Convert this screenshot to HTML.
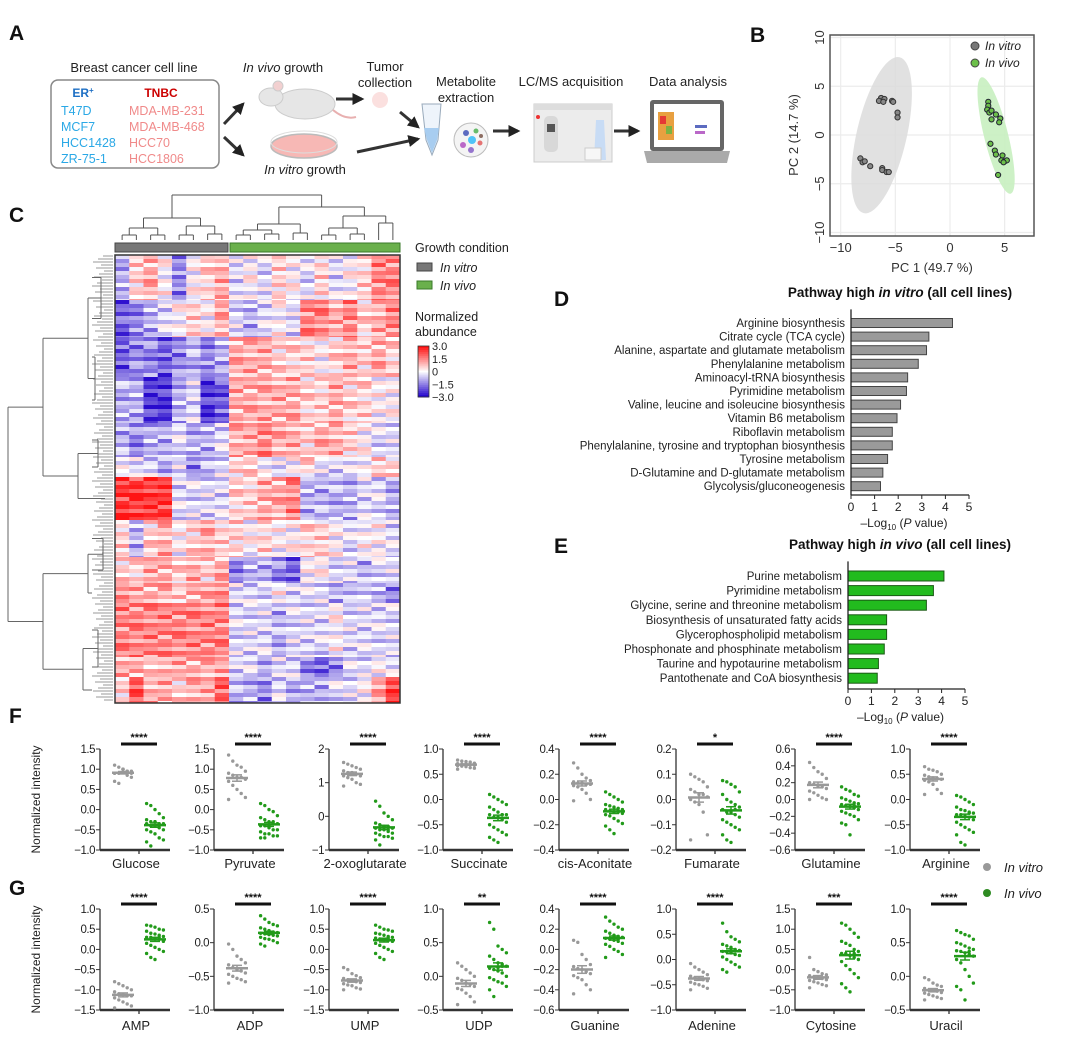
<!DOCTYPE html>
<html><head><meta charset="utf-8">
<style>
body{margin:0;background:#fff;}
svg{display:block;font-family:"Liberation Sans",sans-serif;}
</style></head>
<body>
<svg id="fig" width="1080" height="1044" viewBox="0 0 1080 1044" xmlns="http://www.w3.org/2000/svg">
<rect width="1080" height="1044" fill="#fff"/>
<g font-weight="bold" font-size="21" fill="#111">
<text x="9" y="40">A</text>
<text x="750" y="42">B</text>
<text x="9" y="222">C</text>
<text x="554" y="306">D</text>
<text x="554" y="553">E</text>
<text x="9" y="723">F</text>
<text x="9" y="895">G</text>
</g>

<g id="panelA" font-size="13" fill="#222">
<text x="134" y="72" text-anchor="middle">Breast cancer cell line</text>
<rect x="51" y="80" width="168" height="88" rx="7" fill="none" stroke="#888" stroke-width="1.5"/>
<text x="83" y="97" text-anchor="middle" font-weight="bold" fill="#1e6fc4" font-size="12">ER<tspan font-size="8" dy="-4">+</tspan></text>
<text x="161" y="97" text-anchor="middle" font-weight="bold" fill="#c00" font-size="12">TNBC</text>
<g fill="#2aa8e6" font-size="12.5">
<text x="61" y="115">T47D</text>
<text x="61" y="131">MCF7</text>
<text x="61" y="147">HCC1428</text>
<text x="61" y="163">ZR-75-1</text>
</g>
<g fill="#f08a8a" font-size="12.5">
<text x="129" y="115">MDA-MB-231</text>
<text x="129" y="131">MDA-MB-468</text>
<text x="129" y="147">HCC70</text>
<text x="129" y="163">HCC1806</text>
</g>
<defs><marker id="ah" viewBox="0 0 10 10" refX="8" refY="5" markerWidth="4" markerHeight="4" orient="auto"><path d="M0,0L10,5L0,10z" fill="#222"/></marker></defs>
<g stroke="#333" stroke-width="3" marker-end="url(#ah)">
<line x1="224" y1="124" x2="243" y2="104"/>
<line x1="224" y1="137" x2="243" y2="155"/>
<line x1="336" y1="99" x2="362" y2="99"/>
<line x1="400" y1="112" x2="418" y2="127"/>
<line x1="357" y1="152" x2="418" y2="139"/>
<line x1="493" y1="131" x2="518" y2="131"/>
<line x1="614" y1="131" x2="638" y2="131"/>
</g>
<text x="283" y="72" text-anchor="middle"><tspan font-style="italic">In vivo</tspan> growth</text>
<g>
<ellipse cx="305" cy="104" rx="30" ry="15" fill="#e6e6e6" stroke="#ccc"/>
<ellipse cx="271" cy="97" rx="12" ry="9" fill="#e6e6e6" stroke="#ccc"/>
<circle cx="278" cy="86" r="5" fill="#f2d0d0" stroke="#ccc"/>
<path d="M333,110 Q345,120 356,117" stroke="#e8b0b0" stroke-width="2" fill="none"/>
</g>
<g>
<ellipse cx="304" cy="146" rx="33" ry="12" fill="#f7b8b5" stroke="#bbb" stroke-width="1.5"/>
<ellipse cx="304" cy="142" rx="33" ry="11" fill="none" stroke="#ddd" stroke-width="1"/>
</g>
<text x="305" y="174" text-anchor="middle"><tspan font-style="italic">In vitro</tspan> growth</text>
<text x="385" y="71" text-anchor="middle">Tumor</text>
<text x="385" y="87" text-anchor="middle">collection</text>
<circle cx="380" cy="100" r="8" fill="#fbe0df"/>
<text x="466" y="86" text-anchor="middle">Metabolite</text>
<text x="466" y="102" text-anchor="middle">extraction</text>
<path d="M422,104 L441,104 L438,140 L432,155 L426,140 Z" fill="#eef4fb" stroke="#9ab" stroke-width="1"/>
<path d="M424,128 L439,128 L437,140 L432,153 L427,140 Z" fill="#a8cdf0"/>
<g>
<circle cx="471" cy="140" r="17" fill="#f4f4f4" stroke="#bbb"/>
<circle cx="466" cy="133" r="3" fill="#5c6bc0"/><circle cx="476" cy="131" r="2.5" fill="#66bb6a"/>
<circle cx="472" cy="140" r="4" fill="#4fc3f7"/><circle cx="463" cy="145" r="3" fill="#ba68c8"/>
<circle cx="480" cy="143" r="2.5" fill="#e57373"/><circle cx="471" cy="150" r="3" fill="#9575cd"/>
<circle cx="481" cy="136" r="2" fill="#8d6e63"/>
</g>
<text x="571" y="86" text-anchor="middle">LC/MS acquisition</text>
<g>
<rect x="534" y="104" width="78" height="58" fill="#ececec" stroke="#ccc"/>
<rect x="534" y="104" width="78" height="6" fill="#ddd"/>
<rect x="544" y="116" width="14" height="36" rx="5" fill="#d8d8d8"/>
<rect x="547" y="124" width="8" height="8" fill="#555"/>
<circle cx="538" cy="117" r="2" fill="#e33"/>
<path d="M596,120 L604,120 L606,160 L594,160 Z" fill="#c8dcf5"/>
<rect x="585" y="148" width="16" height="12" fill="#f7f7f7" stroke="#ccc"/>
</g>
<text x="688" y="86" text-anchor="middle">Data analysis</text>
<g>
<rect x="650" y="100" width="74" height="51" rx="3" fill="#666"/>
<rect x="654" y="104" width="66" height="43" fill="#fff"/>
<rect x="658" y="112" width="16" height="28" fill="#e8a040"/>
<rect x="660" y="116" width="6" height="8" fill="#e53935"/><rect x="666" y="126" width="6" height="8" fill="#7cb342"/>
<rect x="695" y="125" width="12" height="3" fill="#5c6bc0"/><rect x="695" y="131" width="10" height="3" fill="#ba68c8"/>
<path d="M644,151 L730,151 L727,163 L647,163 Z" fill="#aaa"/>
</g>
</g>

<g id="panelB"></g>
<g id="panelC"></g>
<g id="panelD"></g>
<g id="panelE"></g>
<g id="panelF"></g>
<g id="panelG"></g>
<g font-size="13" font-style="italic" fill="#222">
<circle cx="987" cy="867" r="4" fill="#999"/>
<text x="1004" y="872">In vitro</text>
<circle cx="987" cy="893" r="4" fill="#2e8b22"/>
<text x="1004" y="898">In vivo</text>
</g>
</svg>
<script>
const pcaVitroX=[-6.3,-6.0,-6.5,-6.1,-5.3,-5.2,-4.8,-4.8,-8.2,-8.0,-7.8,-7.3,-6.2,-6.2,-5.8,-5.6];
const pcaVitroY=[3.8,3.7,3.5,3.4,3.5,3.4,2.3,1.8,-2.4,-2.8,-2.7,-3.2,-3.4,-3.6,-3.8,-3.8];
const pcaVivoX=[3.5,3.5,3.4,3.6,3.8,4.2,3.8,4.6,4.5,3.7,4.1,4.2,4.8,4.7,5.0,5.2,4.9,4.4];
const pcaVivoY=[3.4,3.0,2.6,2.3,2.5,2.1,1.6,1.7,1.3,-0.9,-1.6,-2.0,-2.1,-2.6,-2.7,-2.6,-2.8,-4.1];
const pcaXTicks=[-10,-5,0,5];
const pcaYTicks=[-10,-5,0,5,10];

const dNames=["Arginine biosynthesis","Citrate cycle (TCA cycle)","Alanine, aspartate and glutamate metabolism","Phenylalanine metabolism","Aminoacyl-tRNA biosynthesis","Pyrimidine metabolism","Valine, leucine and isoleucine biosynthesis","Vitamin B6 metabolism","Riboflavin metabolism","Phenylalanine, tyrosine and tryptophan biosynthesis","Tyrosine metabolism","D-Glutamine and D-glutamate metabolism","Glycolysis/gluconeogenesis"];
const dValues=[4.3,3.3,3.2,2.85,2.4,2.35,2.1,1.95,1.75,1.75,1.55,1.35,1.25];
const eNames=["Purine metabolism","Pyrimidine metabolism","Glycine, serine and threonine metabolism","Biosynthesis of unsaturated fatty acids","Glycerophospholipid metabolism","Phosphonate and phosphinate metabolism","Taurine and hypotaurine metabolism","Pantothenate and CoA biosynthesis"];
const eValues=[4.1,3.65,3.35,1.65,1.65,1.55,1.3,1.25];
const barTicks=[0,1,2,3,4,5];

const bandRows=[45,37,40,46,34,20,43,37,26,20,54,20,26];
const bandValues=[
[-1,0.5,1,0,-1.5,0,0.5,1,-0.5,0,-0.5,0.5,0,-0.5,0.5,-0.5,0,0.5,1.5,1.5],
[-2,-1.5,-1,-0.5,0,0.5,0,1,-0.5,-1,-0.5,0,-0.5,1.5,1.5,1,1.5,0.5,1,1.5],
[-2,-1.5,-1.5,-2,-1.5,-1,-1.5,-1,1,1,1,0.5,0.5,0.5,0,0.5,1,0.5,1,0.5],
[-1,-1,-2.5,-2.5,-1,-0.5,-2.5,-2,1,1,1,1,1,0.5,0.5,1,0.5,0.5,0,0],
[-1,-1.5,-1,-1,-0.5,-1,-1,-0.5,1,1,1.5,1,1,0.5,1,1,0.5,0,-0.5,-0.5],
[0,-0.5,-0.5,-1,-0.5,-1.5,-1,-0.5,0.5,0.5,0,-0.5,0,0.5,-0.5,-0.5,-0.5,0,0.5,0.5],
[2.5,2.5,2.5,2.5,-0.5,-0.5,-0.5,-0.5,0.5,0.5,1,1,1.5,-1,-1,-1,-1,-0.5,-0.5,-1],
[0.5,-1,0.5,1,0,0.5,1,0.5,0.5,0,0.5,0,0,0.5,0.5,0,-0.5,0,0,-0.5],
[0.5,0.5,1,1,0.5,1,0.5,1,-1.5,-1,-1,-1.5,-2,0,0,-0.5,-0.5,-1,-0.5,-0.5],
[1.5,1,1,1,0.5,1,1,1.5,-0.5,-0.5,-0.5,0,-0.5,-0.5,-0.5,-1,-1,-0.5,-1,-1.5],
[1.5,1.5,1.5,1.5,1.5,1.5,1.5,1.5,-0.5,-0.5,-0.5,-1,-0.5,-0.5,-0.5,0,-0.5,-0.5,-0.5,-0.5],
[1,1,0.5,1,1,1,1,1,-0.5,-0.5,-1,-0.5,-0.5,-1.5,-2,-1.5,-0.5,-0.5,0,-0.5],
[0.5,2,1,1,0.5,1,1,2,-1,-1,-1.5,-0.5,-1,-1,-1,-0.5,-0.5,0,1,2.5]];
const rowShift=[0.6,-0.4,0.1,-0.8,0.5,0,-0.3,0.9,-0.6,0.3,-0.1,0.7,-0.9,0.2,0.4,-0.5,0.8];
const heatLegendTicks=[3.0,1.5,0,-1.5,-3.0];

const fNames=["Glucose","Pyruvate","2-oxoglutarate","Succinate","cis-Aconitate","Fumarate","Glutamine","Arginine"];
const fStars=["****","****","****","****","****","*","****","****"];
const fMin=[-1,-1,-1,-1,-0.4,-0.2,-0.6,-1];
const fMax=[1.5,1.5,2,1,0.4,0.2,0.6,1];
const fStep=[0.5,0.5,1,0.5,0.2,0.1,0.2,0.5];
const fVitro=[
[1.1,1.05,1.0,0.95,0.95,0.9,0.9,1.0,0.85,0.8,0.7,0.65,1.0,0.95,0.9,0.9],
[1.35,1.2,1.1,1.05,0.95,0.9,0.85,0.8,0.8,0.75,0.7,0.6,0.5,0.4,0.3,0.25],
[1.6,1.55,1.5,1.45,1.4,1.35,1.3,1.3,1.25,1.2,1.2,1.15,1.1,1.0,0.95,0.9],
[0.78,0.76,0.75,0.74,0.72,0.71,0.7,0.7,0.69,0.68,0.67,0.66,0.65,0.63,0.62,0.6],
[0.29,0.25,0.2,0.17,0.15,0.14,0.13,0.13,0.12,0.12,0.11,0.1,0.08,0.05,0.0,-0.01],
[0.1,0.09,0.08,0.07,0.05,0.04,0.03,0.02,0.02,0.01,0.0,-0.01,-0.02,-0.05,-0.14,-0.16],
[0.44,0.38,0.33,0.3,0.25,0.2,0.18,0.16,0.15,0.13,0.1,0.08,0.05,0.02,0.0,0.0],
[0.65,0.6,0.58,0.55,0.5,0.48,0.45,0.43,0.42,0.4,0.38,0.35,0.3,0.2,0.12,0.1]];
const fVivo=[
[0.15,0.1,0.0,-0.1,-0.2,-0.25,-0.3,-0.3,-0.35,-0.35,-0.35,-0.4,-0.4,-0.45,-0.5,-0.5,-0.55,-0.6,-0.7,-0.75,-0.8,-0.9,-0.3,-0.4],
[0.15,0.1,0.0,-0.05,-0.15,-0.2,-0.25,-0.3,-0.35,-0.35,-0.4,-0.4,-0.45,-0.5,-0.5,-0.55,-0.6,-0.6,-0.65,-0.65,-0.7,-0.7,-0.4,-0.3],
[0.45,0.3,0.1,0.0,-0.1,-0.2,-0.25,-0.3,-0.3,-0.35,-0.35,-0.4,-0.4,-0.45,-0.5,-0.5,-0.55,-0.6,-0.6,-0.65,-0.7,-0.85,-0.3,-0.4],
[0.1,0.05,0.0,-0.05,-0.1,-0.15,-0.2,-0.25,-0.3,-0.3,-0.3,-0.35,-0.35,-0.4,-0.45,-0.5,-0.55,-0.6,-0.65,-0.7,-0.75,-0.8,-0.85,-0.3],
[0.06,0.04,0.02,0.0,-0.02,-0.04,-0.05,-0.06,-0.07,-0.08,-0.08,-0.09,-0.1,-0.1,-0.11,-0.12,-0.13,-0.15,-0.17,-0.19,-0.21,-0.24,-0.27,-0.09],
[0.075,0.07,0.06,0.05,0.03,0.02,0.0,-0.01,-0.02,-0.03,-0.04,-0.05,-0.05,-0.06,-0.07,-0.08,-0.09,-0.1,-0.11,-0.12,-0.14,-0.16,-0.17,-0.04],
[0.15,0.12,0.1,0.06,0.04,0.02,0.0,-0.02,-0.04,-0.05,-0.06,-0.07,-0.08,-0.1,-0.12,-0.14,-0.16,-0.18,-0.2,-0.24,-0.28,-0.3,-0.42,-0.07],
[0.08,0.05,0.0,-0.05,-0.1,-0.15,-0.2,-0.22,-0.25,-0.27,-0.3,-0.3,-0.33,-0.35,-0.4,-0.45,-0.5,-0.55,-0.6,-0.65,-0.7,-0.85,-0.9,-0.27]];
const gNames=["AMP","ADP","UMP","UDP","Guanine","Adenine","Cytosine","Uracil"];
const gStars=["****","****","****","**","****","****","***","****"];
const gMin=[-1.5,-1,-1.5,-0.5,-0.6,-1,-1,-0.5];
const gMax=[1,0.5,1,1,0.4,1,1.5,1];
const gStep=[0.5,0.5,0.5,0.5,0.2,0.5,0.5,0.5];
const gVitro=[
[-0.8,-0.85,-0.9,-0.95,-1.0,-1.05,-1.1,-1.12,-1.15,-1.15,-1.2,-1.25,-1.3,-1.35,-1.4,-1.45],
[-0.02,-0.1,-0.2,-0.25,-0.3,-0.33,-0.37,-0.4,-0.42,-0.45,-0.47,-0.5,-0.53,-0.55,-0.58,-0.6],
[-0.45,-0.5,-0.6,-0.65,-0.7,-0.72,-0.75,-0.78,-0.8,-0.82,-0.85,-0.88,-0.9,-0.95,-0.98,-1.0],
[0.2,0.15,0.1,0.05,0.0,-0.03,-0.06,-0.1,-0.12,-0.15,-0.18,-0.2,-0.25,-0.3,-0.38,-0.42],
[0.09,0.07,-0.05,-0.1,-0.15,-0.17,-0.19,-0.2,-0.22,-0.24,-0.26,-0.28,-0.3,-0.35,-0.4,-0.44],
[-0.08,-0.15,-0.2,-0.25,-0.3,-0.33,-0.36,-0.38,-0.4,-0.42,-0.45,-0.48,-0.5,-0.53,-0.57,-0.6],
[0.3,0.0,-0.05,-0.1,-0.13,-0.15,-0.18,-0.2,-0.22,-0.25,-0.27,-0.3,-0.33,-0.37,-0.4,-0.45],
[-0.02,-0.05,-0.1,-0.13,-0.15,-0.18,-0.2,-0.21,-0.22,-0.24,-0.25,-0.27,-0.29,-0.31,-0.33,-0.35]];
const gVivo=[
[0.6,0.58,0.55,0.5,0.48,0.45,0.4,0.38,0.35,0.32,0.3,0.3,0.28,0.25,0.2,0.15,0.1,0.05,0.0,-0.05,-0.1,-0.2,-0.25,0.3],
[0.4,0.35,0.3,0.27,0.25,0.22,0.2,0.18,0.16,0.15,0.14,0.13,0.12,0.11,0.1,0.08,0.06,0.05,0.03,0.0,-0.02,-0.05,0.13,0.15],
[0.6,0.55,0.5,0.48,0.45,0.4,0.38,0.35,0.32,0.3,0.28,0.26,0.25,0.22,0.2,0.15,0.1,0.05,0.0,-0.05,-0.1,-0.2,-0.25,0.28],
[0.8,0.7,0.45,0.4,0.35,0.3,0.25,0.2,0.18,0.15,0.12,0.1,0.08,0.05,0.0,-0.02,-0.05,-0.08,-0.1,-0.15,-0.2,-0.3,0.13,0.15],
[0.32,0.28,0.25,0.22,0.2,0.18,0.16,0.14,0.13,0.12,0.11,0.1,0.09,0.08,0.06,0.05,0.03,0.0,-0.02,-0.05,-0.08,0.11,0.12,0.1],
[0.72,0.55,0.45,0.4,0.35,0.3,0.27,0.24,0.2,0.18,0.16,0.15,0.13,0.1,0.08,0.05,0.0,-0.05,-0.1,-0.15,-0.2,-0.25,0.17,0.17],
[1.15,1.1,1.0,0.9,0.8,0.7,0.65,0.6,0.5,0.45,0.4,0.4,0.35,0.3,0.25,0.2,0.1,0.0,-0.1,-0.2,-0.35,-0.45,-0.55,0.4],
[0.68,0.65,0.62,0.6,0.55,0.5,0.48,0.45,0.42,0.4,0.38,0.37,0.35,0.33,0.3,0.25,0.2,0.1,0.0,-0.1,-0.15,-0.2,-0.35,0.37]];

const NS="http://www.w3.org/2000/svg";
function mk(parent,tag,attrs,text){const e=document.createElementNS(NS,tag);for(const k in attrs)e.setAttribute(k,attrs[k]);if(text!==undefined)e.textContent=text;parent.appendChild(e);return e;}
function fmt(v,d){const s=Math.abs(v).toFixed(d);return (v<-1e-9?"\u2212":"")+s;}

(function(){
const g=document.getElementById('panelB');
const X0=830,X1=1034,Y0=35,Y1=236;
const xs=v=>950+v*10.93, ys=v=>135-v*9.75;
mk(g,'rect',{x:X0,y:Y0,width:X1-X0,height:Y1-Y0,fill:'#fff'});
pcaXTicks.forEach(t=>{const l=mk(g,'line',{x1:xs(t),x2:xs(t),y1:Y0,y2:Y1,stroke:'#ececec','stroke-width':1.2});

const tx=mk(g,'text',{x:xs(t),y:Y1+16,'text-anchor':'middle','font-size':13,fill:'#333'},fmt(t,0));
});
pcaYTicks.forEach(t=>{const l=mk(g,'line',{x1:X0,x2:X1,y1:ys(t),y2:ys(t),stroke:'#ececec','stroke-width':1.2});

const tx=mk(g,'text',{x:0,y:0,'text-anchor':'middle','font-size':13,fill:'#333',transform:`translate(${X0-6},${ys(t)}) rotate(-90)`},fmt(t,0));
});
function mean(a){return a.reduce((s,v)=>s+v,0)/a.length;}
const e1=mk(g,'ellipse',{cx:xs(mean(pcaVitroX)),cy:ys(mean(pcaVitroY)),rx:25,ry:80,fill:'#dcdcdc','fill-opacity':0.85,transform:`rotate(13 ${xs(mean(pcaVitroX))} ${ys(mean(pcaVitroY))})`});

const e2=mk(g,'ellipse',{cx:xs(mean(pcaVivoX)),cy:ys(mean(pcaVivoY)),rx:12,ry:60,fill:'#c8f0c0','fill-opacity':0.9,transform:`rotate(-14 ${xs(mean(pcaVivoX))} ${ys(mean(pcaVivoY))})`});

pcaVitroX.forEach((v,i)=>{const c=mk(g,'circle',{cx:xs(v),cy:ys(pcaVitroY[i]),r:2.6,fill:'#888',stroke:'#333','stroke-width':1});
});
pcaVivoX.forEach((v,i)=>{const c=mk(g,'circle',{cx:xs(v),cy:ys(pcaVivoY[i]),r:2.6,fill:'#6cc04a',stroke:'#223','stroke-width':1});
});
const fr=mk(g,'rect',{x:X0,y:Y0,width:X1-X0,height:Y1-Y0,fill:'none',stroke:'#555','stroke-width':1.5});

const xt=mk(g,'text',{x:932,y:272,'text-anchor':'middle','font-size':13,fill:'#333'},'PC 1 (49.7 %)');

const yt=mk(g,'text',{x:0,y:0,'text-anchor':'middle','font-size':13,fill:'#333',transform:'translate(798,135) rotate(-90)'},'PC 2 (14.7 %)');

const l1=mk(g,'circle',{cx:975,cy:46,r:4,fill:'#777',stroke:'#444'});
const l2=mk(g,'circle',{cx:975,cy:63,r:4,fill:'#6cc04a',stroke:'#444'});
const t1=mk(g,'text',{x:985,y:50,'font-size':12,'font-style':'italic',fill:'#222'},'In vitro');
const t2=mk(g,'text',{x:985,y:67,'font-size':12,'font-style':'italic',fill:'#222'},'In vivo');
})();

(function(){
const g=document.getElementById('panelC');
const HX0=115,HX1=400,HY0=255,HY1=703,NC=20;
const cw=(HX1-HX0)/NC;
const total=bandRows.reduce((s,v)=>s+v,0);
const rh=(HY1-HY0)/total;
function col(v){let t=Math.max(-1,Math.min(1,v/3));
 if(t>=0){return `rgb(255,${Math.round(255-235*t)},${Math.round(255-235*t)})`;}
 t=-t;return `rgb(${Math.round(255-215*t)},${Math.round(255-245*t)},${Math.round(255-50*t)})`;}
let y=HY0;let s=0;
const SUB=4;
bandValues.forEach((row,b)=>{const n=bandRows[b];
 for(let r0=0;r0<n;r0+=SUB){const nr=Math.min(SUB,n-r0);const h=nr*rh;
  row.forEach((v,c)=>{const vv=v+rowShift[(s+c*5)%rowShift.length];
   const r=mk(g,'rect',{x:HX0+c*cw,y:y,width:cw+0.3,height:h+0.3,fill:col(vv)});
   });
  y+=h;s++;}
});
const fr=mk(g,'rect',{x:HX0,y:HY0,width:HX1-HX0,height:HY1-HY0,fill:'none',stroke:'#333','stroke-width':1.5});

const a1=mk(g,'rect',{x:HX0,y:243,width:8*cw-1,height:9,fill:'#777',stroke:'#444'});
const a2=mk(g,'rect',{x:HX0+8*cw+1,y:243,width:12*cw-1,height:9,fill:'#6ab04c',stroke:'#3a7a2a'});
const dg=mk(g,'g',{stroke:'#555','stroke-width':1,fill:'none'});

const tree=[45,[22,[12,[5,0,1],[5,2,3]],[14,[5,4,5],[6,6,7]]],[33,[16,[10,[5,8,9],[6,10,11]],[7,12,13]],[24,[12,[5,14,15],[6,16,17]],[17,18,19]]]];
function draw(n){if(typeof n==='number')return {x:HX0+(n+0.5)*cw,y:240};
 const kids=n.slice(1).map(draw);const yy=240-n[0];
 kids.forEach(k=>mk(dg,'line',{x1:k.x,x2:k.x,y1:k.y,y2:yy}));
 mk(dg,'line',{x1:kids[0].x,x2:kids[kids.length-1].x,y1:yy,y2:yy});
 return {x:(kids[0].x+kids[kids.length-1].x)/2,y:yy};}
draw(tree);
const lg=mk(g,'g',{stroke:'#666','stroke-width':1,fill:'none'});

for(let yy=HY0+1;yy<HY1;yy+=3){mk(lg,'line',{x1:92+((yy*7)%13),x2:113,y1:yy,y2:yy,stroke:'#999'});}
let cy=HY0;const centers=bandRows.map(r=>{const c=cy+r*rh/2;cy+=r*rh;return {x:92,y:c};});
const ltree=[105,[70,[25,[12,0,1],[18,2,3]],[35,[15,4,5],[8,6]]],[70,[25,[10,7,8],9],[30,[15,10,11],12]]];
function drawL(n){if(typeof n==='number')return centers[n];
 const kids=n.slice(1).map(drawL);const xx=113-n[0];
 kids.forEach(k=>mk(lg,'line',{x1:k.x,x2:xx,y1:k.y,y2:k.y}));
 mk(lg,'line',{x1:xx,x2:xx,y1:kids[0].y,y2:kids[kids.length-1].y});
 return {x:xx,y:(kids[0].y+kids[kids.length-1].y)/2};}
drawL(ltree);
const lt=mk(g,'g',{'font-size':12.5,fill:'#222'});

mk(lt,'text',{x:415,y:252},'Growth condition');
mk(lt,'rect',{x:417,y:263,width:15,height:8,fill:'#777',stroke:'#444'});
mk(lt,'text',{x:440,y:272,'font-style':'italic'},'In vitro');
mk(lt,'rect',{x:417,y:281,width:15,height:8,fill:'#6ab04c',stroke:'#3a7a2a'});
mk(lt,'text',{x:440,y:290,'font-style':'italic'},'In vivo');
mk(lt,'text',{x:415,y:321},'Normalized');
mk(lt,'text',{x:415,y:336},'abundance');
const cb0=346,cb1=397;
for(let i=0;i<25;i++){const v=3-6*i/24;mk(lt,'rect',{x:418,y:cb0+i*(cb1-cb0)/25,width:11,height:(cb1-cb0)/25+0.5,fill:col(v)});}
mk(lt,'rect',{x:418,y:cb0,width:11,height:cb1-cb0,fill:'none',stroke:'#333','stroke-width':0.8});
heatLegendTicks.forEach(t=>{const yy=cb0+(3-t)/6*(cb1-cb0);mk(lt,'text',{x:432,y:yy+4,'font-size':11},t===0?'0':fmt(t,1));});
})();

function pathway(id,names,vals,axX,unit,barTop,barStep,barH,axisBottom,title,titleY,italicWord,color,stroke,pre){
 const g=document.getElementById(id);
 const xs=v=>axX+v*unit;
 const tt=mk(g,'text',{x:900,y:titleY,'text-anchor':'middle','font-size':13.5,'font-weight':'bold',fill:'#111'});
 
 mk(tt,'tspan',{},'Pathway high ');mk(tt,'tspan',{'font-style':'italic'},italicWord);mk(tt,'tspan',{},' (all cell lines)');
 names.forEach((n,i)=>{const yc=barTop+i*barStep;
  const r=mk(g,'rect',{x:axX,y:yc-barH/2,width:xs(vals[i])-axX,height:barH,fill:color,stroke:stroke,'stroke-width':1});
  
  const t=mk(g,'text',{x:axX-6,y:yc+4,'text-anchor':'end','font-size':11.5,fill:'#222'},n);
  });
 const ya=mk(g,'line',{x1:axX,x2:axX,y1:barTop-barStep,y2:axisBottom,stroke:'#222','stroke-width':1.3});
 
 const xa=mk(g,'line',{x1:axX,x2:xs(5),y1:axisBottom,y2:axisBottom,stroke:'#222','stroke-width':1.3});
 
 barTicks.forEach(t=>{mk(g,'line',{x1:xs(t),x2:xs(t),y1:axisBottom,y2:axisBottom+4,stroke:'#222'});
  const tl=mk(g,'text',{x:xs(t),y:axisBottom+16,'text-anchor':'middle','font-size':12,fill:'#222'},String(t));
  });
 const xt=mk(g,'text',{x:xs(2.5)-6,y:axisBottom+32,'text-anchor':'middle','font-size':12,fill:'#222'});
 
 mk(xt,'tspan',{},'\u2013Log');mk(xt,'tspan',{'font-size':8,dy:3},'10');mk(xt,'tspan',{dy:-3},' (');mk(xt,'tspan',{'font-style':'italic'},'P');mk(xt,'tspan',{},' value)');
}
pathway('panelD',dNames,dValues,851,23.6,323,13.6,9,495,'','297','in vitro','#9a9a9a','#444','pathway-invitro');
pathway('panelE',eNames,eValues,848,23.4,576,14.6,10,689,'',549,'in vivo','#22bb1e','#1a5a14','pathway-invivo');

const axisXs=[100,214,329,443,559,676,795,910];
function strips(id,names,stars,mins,maxs,steps,vitro,vivo,top,bottom,pre){
 const g=document.getElementById(id);
 const yt=mk(g,'text',{x:0,y:0,'text-anchor':'middle','font-size':12,fill:'#222',transform:`translate(40,${(top+bottom)/2}) rotate(-90)`},'Normalized intensity');
 
 names.forEach((nm,k)=>{
  const ax=axisXs[k];const mn=mins[k],mx=maxs[k],st=steps[k];
  const ys=v=>bottom-(v-mn)/(mx-mn)*(bottom-top);
  const sg=mk(g,'g',{});
  mk(sg,'line',{x1:ax,x2:ax,y1:top,y2:bottom,stroke:'#333','stroke-width':1.3});
  mk(sg,'line',{x1:ax,x2:ax+70,y1:bottom,y2:bottom,stroke:'#333','stroke-width':2.5});
  mk(sg,'line',{x1:ax+39,x2:ax+39,y1:bottom,y2:bottom+4,stroke:'#333','stroke-width':1.3});
  const dec=st>=1?0:1;
  const n=Math.round((mx-mn)/st);
  for(let i=0;i<=n;i++){const v=mn+i*st;mk(sg,'line',{x1:ax-4,x2:ax,y1:ys(v),y2:ys(v),stroke:'#333'});
   const tl=mk(sg,'text',{x:ax-5,y:ys(v)+4,'text-anchor':'end','font-size':11.5,fill:'#222','letter-spacing':'-0.5'},fmt(v,dec));
   }
  const cl=mk(sg,'text',{x:ax+36,y:bottom+(pre==='f'?18:20),'text-anchor':'middle','font-size':13,fill:'#222'},nm);
  
  const sb=mk(sg,'line',{x1:ax+21,x2:ax+57,y1:top-5,y2:top-5,stroke:'#111','stroke-width':3});
  
  const sl=mk(sg,'text',{x:ax+39,y:top-8,'text-anchor':'middle','font-size':11,'font-weight':'bold',fill:'#111'},stars[k]);
  
  [[vitro[k],ax+23,'#999','invitro'],[vivo[k],ax+55,'#229a1a','invivo']].forEach(([arr,cx,c,lab])=>{
   arr.forEach((v,i)=>{const p=mk(sg,'circle',{cx:cx+((i%5)-2)*4.2,cy:ys(v),r:1.7,fill:c});
    });
   const m=arr.reduce((s,v)=>s+v,0)/arr.length;
   const sd=Math.sqrt(arr.reduce((s,v)=>s+(v-m)*(v-m),0)/(arr.length-1));const se=sd/Math.sqrt(arr.length);
   const ml=mk(sg,'line',{x1:cx-11,x2:cx+11,y1:ys(m),y2:ys(m),stroke:c,'stroke-width':2.5});
   
   mk(sg,'line',{x1:cx,x2:cx,y1:ys(m+se),y2:ys(m-se),stroke:c,'stroke-width':1.5});
   mk(sg,'line',{x1:cx-5,x2:cx+5,y1:ys(m+se),y2:ys(m+se),stroke:c,'stroke-width':1.5});
   mk(sg,'line',{x1:cx-5,x2:cx+5,y1:ys(m-se),y2:ys(m-se),stroke:c,'stroke-width':1.5});
  });
 });
}
strips('panelF',fNames,fStars,fMin,fMax,fStep,fVitro,fVivo,749,850,'f');
strips('panelG',gNames,gStars,gMin,gMax,gStep,gVitro,gVivo,909,1010,'g');
</script>
</body></html>
